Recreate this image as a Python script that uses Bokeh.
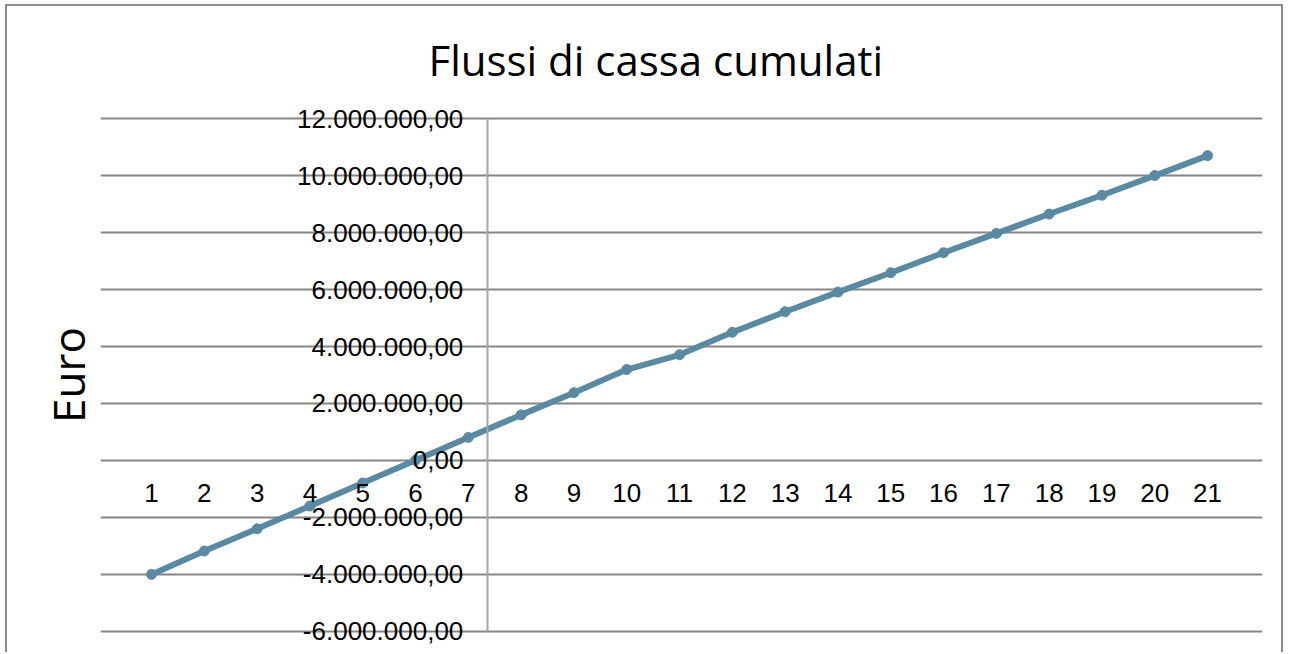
from bokeh.plotting import figure
from bokeh.models import FixedTicker, Title
from bokeh.embed import file_html
from bokeh.resources import INLINE

# Data
anni = list(range(1, 22))
flussi_cumulati = [-4000000, -3180000, -2400000, -1600000, -790000, 10000, 810000,
                   1600000, 2380000, 3190000, 3710000, 4500000, 5220000, 5910000,
                   6590000, 7290000, 7970000, 8650000, 9310000, 10000000, 10700000]
y_ticks = [-6000000, -4000000, -2000000, 0, 2000000, 4000000, 6000000, 8000000, 10000000, 12000000]
y_tick_labels = ["-6.000.000,00", "-4.000.000,00", "-2.000.000,00", "0,00", "2.000.000,00",
                 "4.000.000,00", "6.000.000,00", "8.000.000,00", "10.000.000,00", "12.000.000,00"]
x_tick_labels = [str(a) for a in anni]
titolo = "Flussi di cassa cumulati"
asse_y = "Euro"

LINE = "#5a8aa2"
GRID = "#868686"

Y_MIN, Y_MAX = -6000000, 12000000
PAD = 600000  # room so that the end tick labels are not clipped

p = figure(width=1278, height=648, x_range=(0.034, 22.04), y_range=(Y_MIN - PAD, Y_MAX + PAD),
           output_backend="svg", toolbar_location=None,
           min_border_left=93, min_border_right=23, min_border_top=95, min_border_bottom=6)
p.outline_line_color = None
p.background_fill_color = "white"
p.border_fill_color = "white"

# grid
p.xgrid.visible = False
p.ygrid.ticker = FixedTicker(ticks=y_ticks)
p.ygrid.grid_line_color = GRID
p.ygrid.grid_line_width = 2

# x axis at y=0
xa = p.xaxis[0]
xa.ticker = FixedTicker(ticks=anni)
xa.major_label_overrides = {a: l for a, l in zip(anni, x_tick_labels)}
xa.fixed_location = 0
xa.axis_line_color = None
xa.major_tick_line_color = None
xa.minor_tick_line_color = None
xa.major_tick_out = 0
xa.major_tick_in = 0
xa.major_label_standoff = 24
xa.major_label_text_font = "Liberation Sans"
xa.major_label_text_font_size = "26px"
xa.major_label_text_color = "black"

# y axis crossing between categories 7 and 8
ya = p.yaxis[0]
ya.ticker = FixedTicker(ticks=y_ticks)
ya.bounds = (Y_MIN, Y_MAX)
ya.major_label_overrides = {t: l for t, l in zip(y_ticks, y_tick_labels)}
ya.fixed_location = 7.36
ya.axis_line_color = "#a6a6a6"
ya.axis_line_width = 2
ya.major_tick_line_color = None
ya.minor_tick_line_color = None
ya.major_tick_out = 0
ya.major_tick_in = 0
ya.major_label_standoff = 24
ya.major_label_text_font = "Liberation Sans"
ya.major_label_text_font_size = "26px"
ya.major_label_text_color = "black"

# title
p.title.text = titolo
p.title.align = "left"
p.title.offset = 328
p.title.standoff = 27
p.title.text_font = "Open Sans"
p.title.text_font_size = "42px"
p.title.text_font_style = "normal"
p.title.text_color = "black"

p.add_layout(Title(text=asse_y, align="center", text_font="Open Sans", text_font_size="44px",
                   text_font_style="normal", text_color="black", standoff=5), "left")

# series
p.line(anni, flussi_cumulati, line_color=LINE, line_width=6)
p.scatter(anni, flussi_cumulati, size=10, fill_color=LINE, line_color=LINE)

p.styles = {"margin-left": "5px", "margin-top": "4px",
            "border-left": "2px solid #8c8c8c", "border-top": "2px solid #8c8c8c",
            "border-right": "2px solid #8c8c8c"}

open("out.html", "w").write(file_html(p, INLINE))
